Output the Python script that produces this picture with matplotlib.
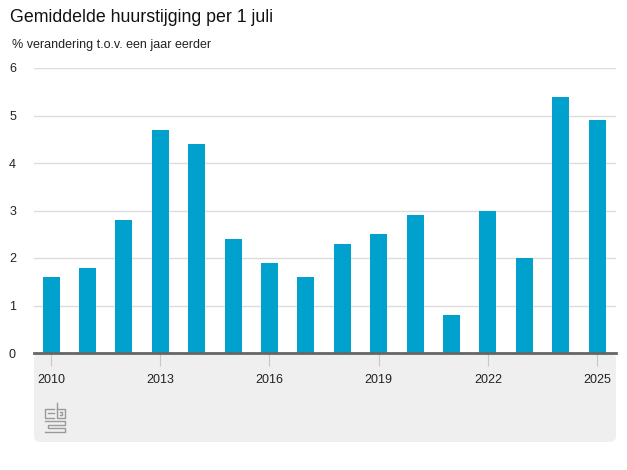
import matplotlib.pyplot as plt
from matplotlib.patches import FancyBboxPatch
from matplotlib.lines import Line2D

years = list(range(2010, 2026))
values = [1.6, 1.8, 2.8, 4.7, 4.4, 2.4, 1.9, 1.6, 2.3, 2.5, 2.9, 0.8, 3.0, 2.0, 5.4, 4.9]
tick_years = [2010, 2013, 2016, 2019, 2022, 2025]

title = "Gemiddelde huurstijging per 1 juli"
subtitle = "% verandering t.o.v. een jaar eerder"

plt.rcParams['font.family'] = ['Liberation Sans', 'DejaVu Sans']

W, H = 627, 470
fig = plt.figure(figsize=(W / 100, H / 100), dpi=100)
fig.patch.set_facecolor("white")


def fx(px):
    return px / W


def fy(py):
    return 1 - py / H


# grijs vlak onder de grafiek
panel = FancyBboxPatch((fx(34), fy(442)), fx(616) - fx(34), fy(353) - fy(442),
                       boxstyle="round,pad=0,rounding_size=0.012",
                       transform=fig.transFigure, facecolor="#efefef",
                       edgecolor="none", zorder=-5)
fig.patches.append(panel)

ax = fig.add_axes([fx(34), fy(353), fx(616) - fx(34), fy(68) - fy(353)])
ax.set_zorder(2)
ax.set_facecolor("none")
ax.bar(years, values, width=0.47, color="#00a1cd", zorder=3)
ax.set_xlim(2009.53, 2025.52)
ax.set_ylim(0, 6)
ax.set_yticks(range(0, 7))
ax.yaxis.grid(True, color="#dcdcdc", linewidth=1)
ax.set_axisbelow(True)
for s in ax.spines.values():
    s.set_visible(False)
ax.axhline(0, color="#666666", linewidth=2, zorder=4, clip_on=False)
ax.tick_params(axis="y", length=0, pad=13, labelsize=9, labelcolor="#222222")
ax.set_xticks(tick_years)
ax.set_xticklabels([str(y) for y in tick_years])
ax.tick_params(axis="x", length=9, width=0.8, color="#c8c8c8", pad=6,
               labelsize=9, labelcolor="#222222")

fig.text(fx(10), fy(17), title, fontsize=12.8, color="#111111", va="center")
fig.text(fx(12), fy(45), subtitle, fontsize=9, color="#222222", va="center")

# cbs logo (vereenvoudigd)
c = "#9a9a9a"
lw = 1.0
segs = [
    [(54, 409), (45, 409), (45, 418), (54, 418)],
    [(48, 413), (54, 413)],
    [(57, 403), (57, 418), (65, 418), (65, 409), (57, 409)],
    [(60, 412), (62, 412), (62, 415), (60, 415)],
    [(45, 421), (65, 421), (65, 425), (48, 425), (48, 428), (65, 428),
     (65, 432), (45, 432)],
]
for seg in segs:
    xs = [fx(p[0]) for p in seg]
    ys = [fy(p[1]) for p in seg]
    fig.add_artist(Line2D(xs, ys, color=c, linewidth=lw, transform=fig.transFigure))

fig.savefig("out.png", dpi=100)
